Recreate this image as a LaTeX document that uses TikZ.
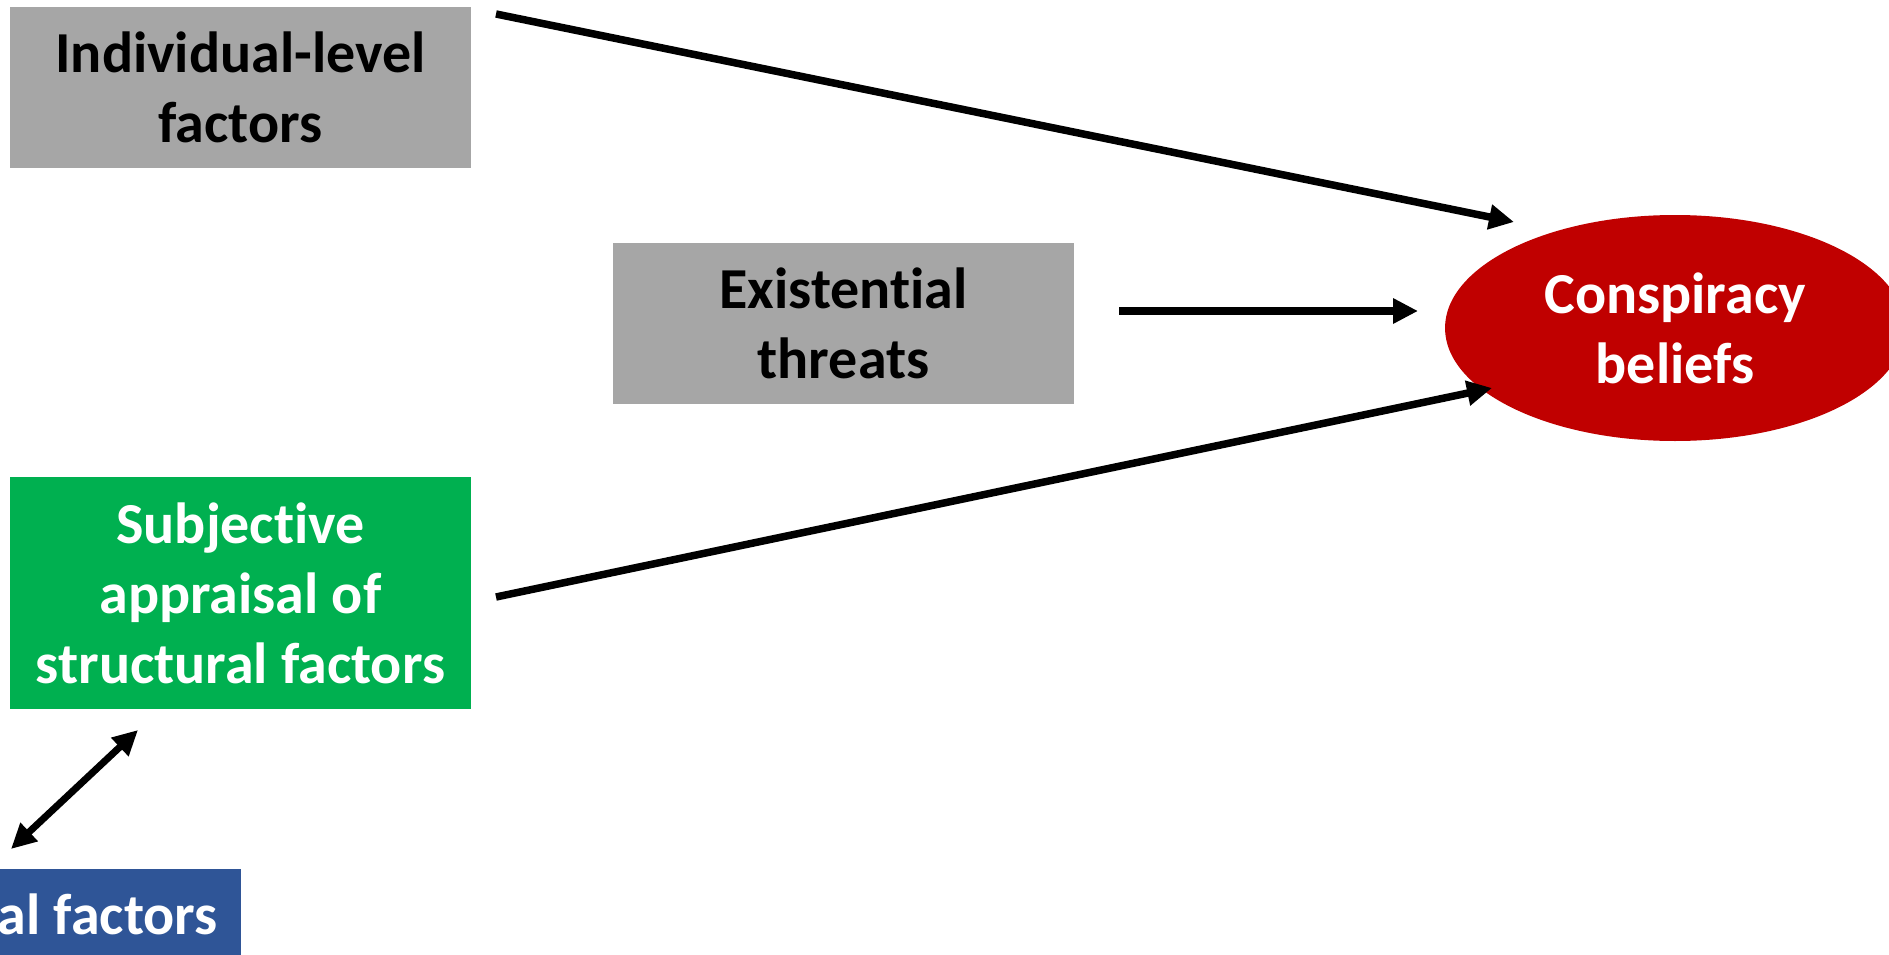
\documentclass[tikz,border=0pt]{standalone}
\usepackage{fontspec}
\setmainfont[RawFeature={-liga;-calt;-clig;-dlig}]{Carlito}
\usetikzlibrary{arrows.meta,shapes.geometric}
\definecolor{boxgray}{HTML}{A6A6A6}
\definecolor{boxgreen}{HTML}{00B050}
\definecolor{boxred}{HTML}{C00000}
\definecolor{boxblue}{HTML}{2F5597}
\tikzset{
  lbl/.style={font=\fontsize{58}{70}\selectfont\bfseries, align=center, inner sep=0pt},
  factorbox/.style={lbl, rectangle, minimum width=461pt, minimum height=161pt},
  conn/.style={line width=7.5pt, -{Triangle[length=25pt,width=24pt]}},
  dconn/.style={line width=7pt, {Triangle[length=25pt,width=24pt]}-{Triangle[length=25pt,width=24pt]}}
}
\begin{document}
\begin{tikzpicture}[x=1pt,y=-1pt]
\useasboundingbox (0,0) rectangle (1889,955);
\clip (0,0) rectangle (1889,955);
\fill[white] (0,0) rectangle (1889,955);
% boxes
\node[factorbox, fill=boxgray, text=black] (ind) at (240.5,87.5) {Individual-level\\factors};
\node[factorbox, fill=boxgray, text=black] (exi) at (843.5,323.5) {Existent\kern0pt ial\\threats};
\node[factorbox, fill=boxgreen, text=white, minimum height=232pt] (sub) at (240.5,593) {Subject\kern0pt ive\\appraisal of\\structural factors};
\node[lbl, ellipse, fill=boxred, text=white, minimum width=460pt, minimum height=226pt] (cb) at (1675,328) {Conspiracy\\beliefs};
\fill[boxblue] (-300,869) rectangle (241,1000);
\node[lbl, text=white, anchor=base east] (str) at (218,934) {al factors};
% connector end points
\coordinate (a1s) at (496,14);
\coordinate (a1e) at (1514,222);
\coordinate (a2s) at (1119,311);
\coordinate (a2e) at (1418,311);
\coordinate (a3s) at (496,597);
\coordinate (a3e) at (1492,388);
\coordinate (d1) at (138,730);
\coordinate (d2) at (11,849);
% connectors
\draw[conn] (a1s) -- (a1e);
\draw[conn] (a2s) -- (a2e);
\draw[conn] (a3s) -- (a3e);
\draw[dconn] (d1) -- (d2);
\end{tikzpicture}
\end{document}
